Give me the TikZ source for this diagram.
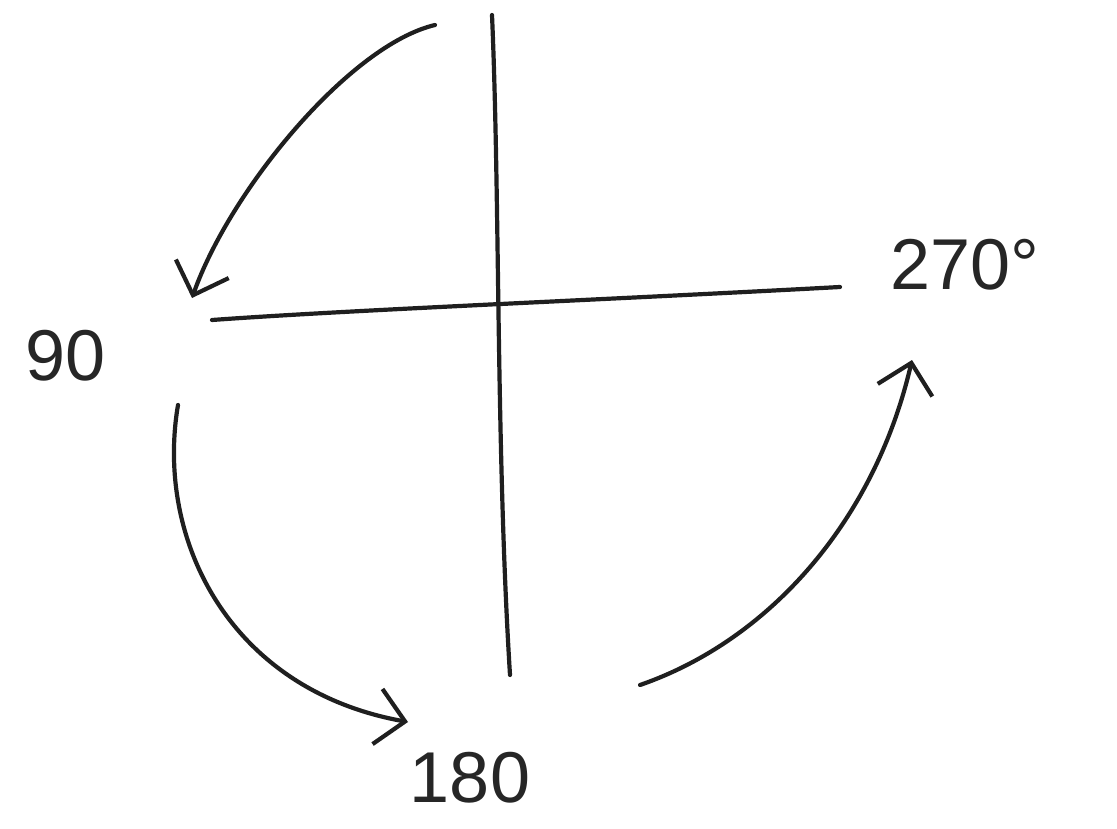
\documentclass[tikz,border=0pt]{standalone}
\usepackage{fontspec}
\setmainfont{Liberation Sans}
\usetikzlibrary{arrows.meta}
\begin{document}
\begin{tikzpicture}[x=1pt,y=-1pt,
  stroke/.style={line width=4.2pt,line cap=round,line join=round,black!88},
  arr/.style={stroke,-{Straight Barb[length=28pt,width=56pt,line width=4.2pt]}},
  lbl/.style={font=\fontsize{72}{72}\selectfont,text=black!85,inner sep=0pt}]
\useasboundingbox (0,0) rectangle (1117,829);
% axes
\coordinate (vt) at (492,15);
\coordinate (vb) at (510,675);
\coordinate (hl) at (212,320);
\coordinate (hr) at (840,287);
\draw[stroke] (vt) .. controls (500,200) and (496,450) .. (vb);
\draw[stroke] (hl) .. controls (350,310) and (600,300) .. (hr);
% labels
\node[lbl] (n90) at (66,356) {90};
\node[lbl] (n180) at (470,778) {180};
\node[lbl] (n270) at (965,265) {270°};
% arrows
\coordinate (a1s) at (435,25);
\coordinate (a1e) at (192,298);
\draw[arr] (a1s) .. controls (350,45) and (230,190) .. (a1e);
\coordinate (a2s) at (178,405);
\coordinate (a2e) at (408,722);
\draw[arr] (a2s) .. controls (155,540) and (230,690) .. (a2e);
\coordinate (a3s) at (640,685);
\coordinate (a3e) at (912,360);
\draw[arr] (a3s) .. controls (770,640) and (875,520) .. (a3e);
\end{tikzpicture}
\end{document}
